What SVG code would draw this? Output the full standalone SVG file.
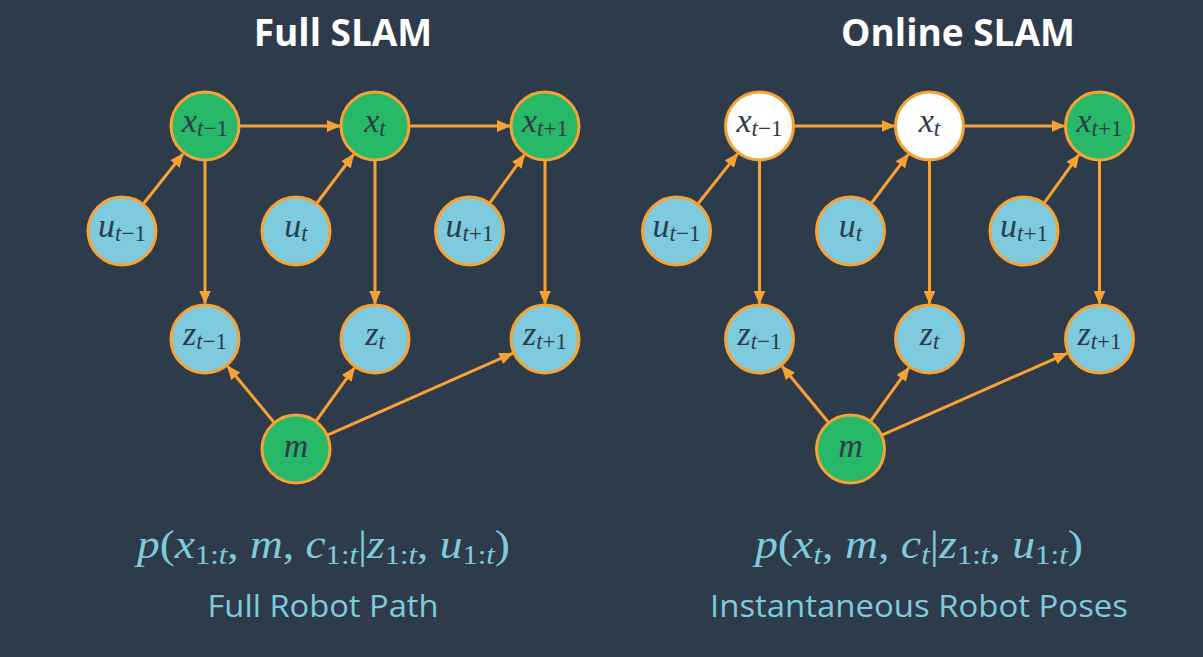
<svg xmlns="http://www.w3.org/2000/svg" width="1203" height="657" viewBox="0 0 1203 657">
<style>
.bg{fill:#2e3b4a}
.title{font-family:"Open Sans","Liberation Sans",sans-serif;font-weight:700;font-size:37px;fill:#ffffff}
.cap{font-family:"Open Sans","Liberation Sans",sans-serif;font-size:31px;fill:#7ecbdf}
.n circle{stroke:#f7a232;stroke-width:3}
.g{fill:#27b968}
.b{fill:#7ecbdf}
.w{fill:#ffffff}
.lbl{font-family:"Liberation Serif","DejaVu Serif",serif;font-size:34px;fill:#2e3b4a;text-anchor:middle}
.f{font-family:"Liberation Serif","DejaVu Serif",serif;font-size:40px;fill:#7ecbdf;text-anchor:middle}
.i{font-style:italic}
.s{font-size:27px}
.ls{font-size:23px}
.e line{stroke:#f7a232;stroke-width:3;fill:none;marker-end:url(#ah)}
</style>
<defs>
<marker id="ah" markerUnits="userSpaceOnUse" markerWidth="14" markerHeight="12" refX="13" refY="6" orient="auto">
<path d="M0,0 L14,6 L0,12 z" fill="#f7a232"/>
</marker>
</defs>
<rect class="bg" x="0" y="0" width="1203" height="657"/>

<text class="title" x="343" y="46" text-anchor="middle">Full SLAM</text>
<text class="title" x="958" y="46" text-anchor="middle">Online SLAM</text>

<!-- LEFT GRAPH -->
<g id="full">
<g class="e" id="full-edges">
<line x1="143.7" y1="203.5" x2="183" y2="153.9"/>
<line x1="317" y1="203" x2="353.7" y2="154.4"/>
<line x1="490" y1="202.6" x2="524.3" y2="154.8"/>
<line x1="240" y1="126" x2="340" y2="126"/>
<line x1="410" y1="126" x2="510" y2="126"/>
<line x1="205" y1="161" x2="205" y2="303.5"/>
<line x1="375" y1="161" x2="375" y2="303.5"/>
<line x1="545" y1="161" x2="545" y2="303.5"/>
<line x1="273.7" y1="422" x2="227.6" y2="366.3"/>
<line x1="316.4" y1="420.6" x2="354.3" y2="367.8"/>
<line x1="328" y1="434.9" x2="512.5" y2="353.3"/>
</g>
<g class="n" id="full-x1"><circle class="g" cx="205" cy="126" r="34"/><text class="lbl" x="205" y="132"><tspan class="i">x</tspan><tspan class="ls" dy="4"><tspan class="i">t</tspan>−1</tspan></text></g>
<g class="n" id="full-x2"><circle class="g" cx="375" cy="126" r="34"/><text class="lbl" x="375" y="132"><tspan class="i">x</tspan><tspan class="ls i" dy="4">t</tspan></text></g>
<g class="n" id="full-x3"><circle class="g" cx="545" cy="126" r="34"/><text class="lbl" x="545" y="132"><tspan class="i">x</tspan><tspan class="ls" dy="4"><tspan class="i">t</tspan>+1</tspan></text></g>
<g class="n" id="full-u1"><circle class="b" cx="122" cy="231" r="34"/><text class="lbl" x="122" y="237"><tspan class="i">u</tspan><tspan class="ls" dy="4"><tspan class="i">t</tspan>−1</tspan></text></g>
<g class="n" id="full-u2"><circle class="b" cx="296" cy="231" r="34"/><text class="lbl" x="296" y="237"><tspan class="i">u</tspan><tspan class="ls i" dy="4">t</tspan></text></g>
<g class="n" id="full-u3"><circle class="b" cx="469.5" cy="231" r="34"/><text class="lbl" x="469.5" y="237"><tspan class="i">u</tspan><tspan class="ls" dy="4"><tspan class="i">t</tspan>+1</tspan></text></g>
<g class="n" id="full-z1"><circle class="b" cx="205" cy="339" r="34"/><text class="lbl" x="205" y="345"><tspan class="i">z</tspan><tspan class="ls" dy="4"><tspan class="i">t</tspan>−1</tspan></text></g>
<g class="n" id="full-z2"><circle class="b" cx="375" cy="339" r="34"/><text class="lbl" x="375" y="345"><tspan class="i">z</tspan><tspan class="ls i" dy="4">t</tspan></text></g>
<g class="n" id="full-z3"><circle class="b" cx="545" cy="339" r="34"/><text class="lbl" x="545" y="345"><tspan class="i">z</tspan><tspan class="ls" dy="4"><tspan class="i">t</tspan>+1</tspan></text></g>
<g class="n" id="full-m"><circle class="g" cx="296" cy="449" r="34"/><text class="lbl i" x="296" y="457">m</text></g>
</g>

<!-- RIGHT GRAPH -->
<g id="online" transform="translate(554.5 0)">
<g class="e" id="online-edges">
<line x1="143.7" y1="203.5" x2="183" y2="153.9"/>
<line x1="317" y1="203" x2="353.7" y2="154.4"/>
<line x1="490" y1="202.6" x2="524.3" y2="154.8"/>
<line x1="240" y1="126" x2="340" y2="126"/>
<line x1="410" y1="126" x2="510" y2="126"/>
<line x1="205" y1="161" x2="205" y2="303.5"/>
<line x1="375" y1="161" x2="375" y2="303.5"/>
<line x1="545" y1="161" x2="545" y2="303.5"/>
<line x1="273.7" y1="422" x2="227.6" y2="366.3"/>
<line x1="316.4" y1="420.6" x2="354.3" y2="367.8"/>
<line x1="328" y1="434.9" x2="512.5" y2="353.3"/>
</g>
<g class="n" id="online-x1"><circle class="w" cx="205" cy="126" r="34"/><text class="lbl" x="205" y="132"><tspan class="i">x</tspan><tspan class="ls" dy="4"><tspan class="i">t</tspan>−1</tspan></text></g>
<g class="n" id="online-x2"><circle class="w" cx="375" cy="126" r="34"/><text class="lbl" x="375" y="132"><tspan class="i">x</tspan><tspan class="ls i" dy="4">t</tspan></text></g>
<g class="n" id="online-x3"><circle class="g" cx="545" cy="126" r="34"/><text class="lbl" x="545" y="132"><tspan class="i">x</tspan><tspan class="ls" dy="4"><tspan class="i">t</tspan>+1</tspan></text></g>
<g class="n" id="online-u1"><circle class="b" cx="122" cy="231" r="34"/><text class="lbl" x="122" y="237"><tspan class="i">u</tspan><tspan class="ls" dy="4"><tspan class="i">t</tspan>−1</tspan></text></g>
<g class="n" id="online-u2"><circle class="b" cx="296" cy="231" r="34"/><text class="lbl" x="296" y="237"><tspan class="i">u</tspan><tspan class="ls i" dy="4">t</tspan></text></g>
<g class="n" id="online-u3"><circle class="b" cx="469.5" cy="231" r="34"/><text class="lbl" x="469.5" y="237"><tspan class="i">u</tspan><tspan class="ls" dy="4"><tspan class="i">t</tspan>+1</tspan></text></g>
<g class="n" id="online-z1"><circle class="b" cx="205" cy="339" r="34"/><text class="lbl" x="205" y="345"><tspan class="i">z</tspan><tspan class="ls" dy="4"><tspan class="i">t</tspan>−1</tspan></text></g>
<g class="n" id="online-z2"><circle class="b" cx="375" cy="339" r="34"/><text class="lbl" x="375" y="345"><tspan class="i">z</tspan><tspan class="ls i" dy="4">t</tspan></text></g>
<g class="n" id="online-z3"><circle class="b" cx="545" cy="339" r="34"/><text class="lbl" x="545" y="345"><tspan class="i">z</tspan><tspan class="ls" dy="4"><tspan class="i">t</tspan>+1</tspan></text></g>
<g class="n" id="online-m"><circle class="g" cx="296" cy="449" r="34"/><text class="lbl i" x="296" y="457">m</text></g>
</g>

<text class="f" x="323.5" y="558" textLength="373" lengthAdjust="spacingAndGlyphs"><tspan class="i">p</tspan>(<tspan class="i">x</tspan><tspan class="s" dy="6">1:<tspan class="i">t</tspan></tspan><tspan dy="-6">, </tspan><tspan class="i">m</tspan>, <tspan class="i">c</tspan><tspan class="s" dy="6">1:<tspan class="i">t</tspan></tspan><tspan dy="-6">|</tspan><tspan class="i">z</tspan><tspan class="s" dy="6">1:<tspan class="i">t</tspan></tspan><tspan dy="-6">, </tspan><tspan class="i">u</tspan><tspan class="s" dy="6">1:<tspan class="i">t</tspan></tspan><tspan dy="-6">)</tspan></text>
<text class="cap" x="323" y="617" text-anchor="middle" textLength="231" lengthAdjust="spacingAndGlyphs">Full Robot Path</text>

<text class="f" x="919" y="558" textLength="328" lengthAdjust="spacingAndGlyphs"><tspan class="i">p</tspan>(<tspan class="i">x</tspan><tspan class="s i" dy="6">t</tspan><tspan dy="-6">, </tspan><tspan class="i">m</tspan>, <tspan class="i">c</tspan><tspan class="s i" dy="6">t</tspan><tspan dy="-6">|</tspan><tspan class="i">z</tspan><tspan class="s" dy="6">1:<tspan class="i">t</tspan></tspan><tspan dy="-6">, </tspan><tspan class="i">u</tspan><tspan class="s" dy="6">1:<tspan class="i">t</tspan></tspan><tspan dy="-6">)</tspan></text>
<text class="cap" x="919" y="617" text-anchor="middle" textLength="418" lengthAdjust="spacingAndGlyphs">Instantaneous Robot Poses</text>
</svg>
